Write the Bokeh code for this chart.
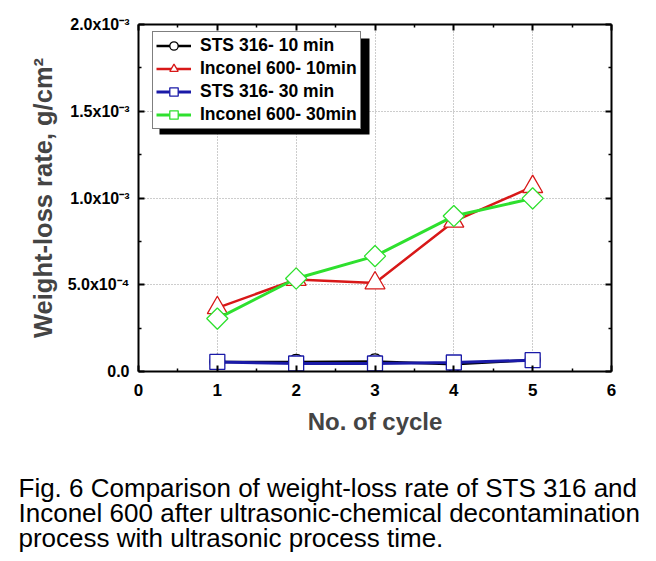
from bokeh.plotting import figure
from bokeh.layouts import column
from bokeh.models import (Legend, LegendItem, LinearAxis, FixedTicker, Label,
                          BoxAnnotation, Range1d)
from bokeh.embed import file_html
from bokeh.resources import INLINE

# ---- data ----
cycles = [1, 2, 3, 4, 5]
sts316_10min = [5.5e-5, 5.5e-5, 5.8e-5, 4.2e-5, 6.6e-5]
inconel600_10min = [3.67e-4, 5.3e-4, 5.1e-4, 8.65e-4, 1.065e-3]
sts316_30min = [5.5e-5, 4.6e-5, 4.6e-5, 5.2e-5, 6.5e-5]
inconel600_30min = [3.05e-4, 5.36e-4, 6.65e-4, 8.96e-4, 0.998e-3]

series_labels = ["STS 316- 10 min", "Inconel 600- 10min",
                 "STS 316- 30 min", "Inconel 600- 30min"]

x_ticks = [0, 1, 2, 3, 4, 5, 6]
x_minor = [0.5, 1.5, 2.5, 3.5, 4.5, 5.5]
y_ticks = [0.0, 0.0005, 0.001, 0.0015, 0.002]
y_minor = [0.00025, 0.00075, 0.00125, 0.00175]
y_tick_labels = ["0.0", "5.0x10\u207b\u2074", "1.0x10\u207b\u00b3",
                 "1.5x10\u207b\u00b3", "2.0x10\u207b\u00b3"]
x_title = "No. of cycle"
y_title = "Weight-loss rate, g/cm\u00b2"
caption_lines = ["Fig. 6 Comparison of weight-loss rate of STS 316 and",
                 "Inconel 600 after ultrasonic-chemical decontamination",
                 "process with ultrasonic process time."]

FONT = "Liberation Sans"

W, H = 640, 460
BL, BR, BT, BB = 138, 29, 24, 89

p = figure(width=W, height=H, output_backend="svg", toolbar_location=None,
           x_range=Range1d(0, 6), y_range=Range1d(0.0, 0.002),
           min_border_left=BL, min_border_right=BR, min_border_top=BT,
           min_border_bottom=BB, outline_line_color=None)

xt = FixedTicker(ticks=x_ticks, minor_ticks=x_minor)
yt = FixedTicker(ticks=y_ticks, minor_ticks=y_minor)


def style_axis(ax):
    ax.axis_line_width = 2
    ax.axis_line_color = "black"
    ax.major_tick_in = 6
    ax.major_tick_out = 0
    ax.minor_tick_in = 3
    ax.minor_tick_out = 0
    ax.major_tick_line_width = 2
    ax.minor_tick_line_width = 1.5
    ax.major_tick_line_color = "black"
    ax.minor_tick_line_color = "black"
    ax.major_label_text_font = FONT
    ax.major_label_text_font_style = "bold"
    ax.major_label_text_color = "black"


xa = p.xaxis[0]
xa.ticker = xt
style_axis(xa)
xa.major_label_text_font_size = "17px"
xa.major_label_standoff = 12
xa.axis_label = x_title
xa.axis_label_text_font = FONT
xa.axis_label_text_font_style = "bold"
xa.axis_label_text_font_size = "24px"
xa.axis_label_standoff = 9

ya = p.yaxis[0]
ya.ticker = yt
style_axis(ya)
ya.major_label_text_font_size = "16px"
ya.major_label_standoff = 9
ya.major_label_overrides = {t: s for t, s in zip(y_ticks, y_tick_labels)}
ya.axis_label = y_title
ya.axis_label_text_font = FONT
ya.axis_label_text_font_style = "bold"
ya.axis_label_text_font_size = "25.5px"
ya.axis_label_standoff = 8

top = LinearAxis(ticker=xt)
style_axis(top)
top.major_label_overrides = {t: "" for t in x_ticks}
top.major_label_standoff = 0
p.add_layout(top, "above")
right = LinearAxis(ticker=yt)
style_axis(right)
right.major_label_overrides = {t: "" for t in y_ticks}
right.major_label_standoff = 0
p.add_layout(right, "right")

for g in (p.xgrid[0], p.ygrid[0]):
    g.grid_line_color = "#9a9a9a"
    g.grid_line_dash = "1 2"
    g.grid_line_width = 1
p.xgrid[0].ticker = FixedTicker(ticks=[1, 2, 3, 4, 5])
p.ygrid[0].ticker = FixedTicker(ticks=[0.0005, 0.001, 0.0015])

specs = [
    (sts316_10min, "black", "circle", 15, 0, 2.5),
    (inconel600_10min, "#d81818", "triangle", 20, 0, 2.5),
    (sts316_30min, "#1a1aa8", "square", 15, 0, 3),
    (inconel600_30min, "#2ee02e", "square", 15, 0.785398, 3),
]
items = []
for (vals, col, mk, sz, ang, lw), lab in zip(specs, series_labels):
    lr = p.line(cycles, vals, line_color=col, line_width=lw)
    sr = p.scatter(cycles, vals, marker=mk, size=sz, angle=ang,
                   line_color=col, line_width=1.3, fill_color="white")
    items.append(LegendItem(label=lab, renderers=[lr, sr]))

# legend box geometry (screen px inside the frame, from its bottom-left)
LG_X, LG_Y, LG_W, LG_H = 14, 242, 210, 96
shadow = BoxAnnotation(left=LG_X + 7, right=LG_X + LG_W + 7,
                       top=LG_Y + LG_H - 5, bottom=LG_Y - 5,
                       left_units="screen", right_units="screen",
                       top_units="screen", bottom_units="screen",
                       fill_color="black", fill_alpha=1, line_color=None)
p.add_layout(shadow)

legend = Legend(items=items, location=(LG_X, LG_Y))
legend.label_text_font = FONT
legend.label_text_font_style = "bold"
legend.label_text_font_size = "17.5px"
legend.label_text_color = "black"
legend.glyph_width = 35
legend.glyph_height = 21
legend.label_height = 21
legend.label_standoff = 9
legend.spacing = 2
legend.padding = 3
legend.margin = 0
legend.border_line_color = "black"
legend.border_line_width = 1
legend.background_fill_color = "white"
legend.background_fill_alpha = 1
p.add_layout(legend)

# ---- caption panel under the chart ----
CH = 96
cap = figure(width=W, height=CH, output_backend="svg", toolbar_location=None,
             x_axis_type=None, y_axis_type=None, x_range=Range1d(0, 1),
             y_range=Range1d(0, 1), min_border=0, outline_line_color=None)
cap.frame_align = False
cap.xgrid.visible = False
cap.ygrid.visible = False
for i, line in enumerate(caption_lines):
    cap.add_layout(Label(x=18, y=CH - 27 - 25.3 * i, x_units="screen",
                         y_units="screen", text=line, text_font=FONT,
                         text_font_size="26px", text_baseline="alphabetic",
                         text_color="black"))

layout = column(p, cap, spacing=0)
open("out.html", "w").write(file_html(layout, INLINE))
